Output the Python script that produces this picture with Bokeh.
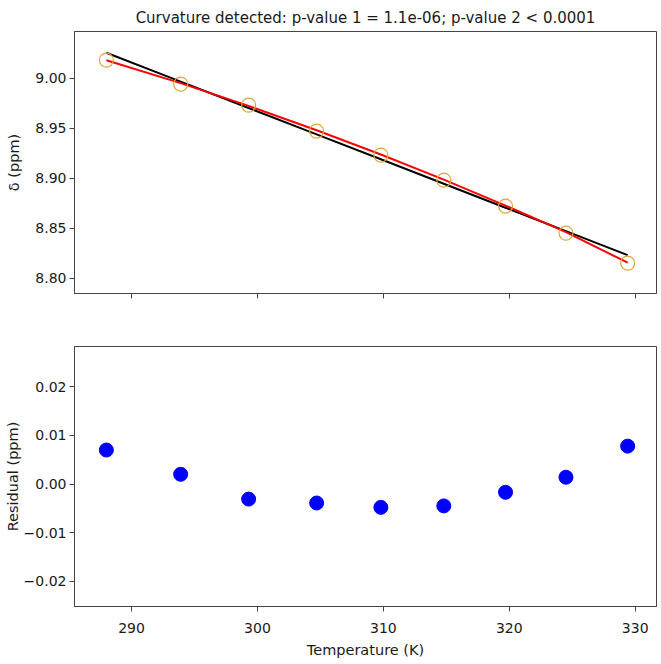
from bokeh.plotting import figure
from bokeh.layouts import column
from bokeh.models import Range1d, FixedTicker, CustomJSTickFormatter
from bokeh.embed import file_html
from bokeh.resources import INLINE

# ---- data ----
temperature = [288.0, 293.9, 299.3, 304.7, 309.8, 314.8, 319.7, 324.5, 329.4]
delta_obs = [9.018, 8.994, 8.973, 8.947, 8.923, 8.898, 8.872, 8.845, 8.815]
linear_fit = [9.0253, 8.9965, 8.9701, 8.9437, 8.9188, 8.8944, 8.8704, 8.8470, 8.8230]
quad_fit = [9.0178, 8.9950, 8.9722, 8.9479, 8.9236, 8.8985, 8.8725, 8.8460, 8.8154]
residual = [0.0070, 0.0020, -0.0031, -0.0039, -0.0048, -0.0045, -0.0017, 0.0014, 0.0078]

x_ticks = [290, 300, 310, 320, 330]
y1_ticks = [8.80, 8.85, 8.90, 8.95, 9.00]
y2_ticks = [-0.02, -0.01, 0.00, 0.01, 0.02]
title_text = "Curvature detected: p-value 1 = 1.1e-06; p-value 2 < 0.0001"

FONT = "DejaVu Sans"
TXT = "#1a1a1a"
FRAME = "#444444"
x_range = Range1d(285.47, 331.69)


def style(p):
    p.outline_line_color = FRAME
    p.outline_line_width = 1
    p.xgrid.visible = False
    p.ygrid.visible = False
    for ax in (p.xaxis[0], p.yaxis[0]):
        ax.axis_line_color = FRAME
        ax.major_tick_line_color = FRAME
        ax.major_tick_out = 5
        ax.major_tick_in = 0
        ax.minor_tick_line_color = None
        ax.major_label_text_font = FONT
        ax.major_label_text_font_size = "14px"
        ax.major_label_text_color = TXT
        ax.axis_label_text_font = FONT
        ax.axis_label_text_font_size = "14.5px"
        ax.axis_label_text_font_style = "normal"
        ax.axis_label_text_color = TXT
        ax.major_label_standoff = 3


p1 = figure(width=660, height=320, x_range=x_range, y_range=Range1d(8.7846, 9.0466),
            output_backend="svg", toolbar_location=None,
            min_border_left=74, min_border_right=4, min_border_top=31, min_border_bottom=27)
p1.title.text = title_text
p1.title.text_font = FONT
p1.title.text_font_size = "15px"
p1.title.text_font_style = "normal"
p1.title.text_color = TXT
p1.title.align = "center"
p1.title.text_line_height = 2.0
style(p1)
p1.xaxis.ticker = FixedTicker(ticks=x_ticks)
p1.xaxis.formatter = CustomJSTickFormatter(code="return '';")
p1.yaxis.ticker = FixedTicker(ticks=y1_ticks)
p1.yaxis.formatter = CustomJSTickFormatter(code="return tick.toFixed(2);")
p1.yaxis.axis_label = "δ (ppm)"
p1.yaxis.axis_label_standoff = 10

p1.line(temperature, linear_fit, line_color="black", line_width=2)
p1.line(temperature, quad_fit, line_color="#ff0000", line_width=2)
p1.scatter(temperature, delta_obs, size=14, fill_color=None, line_color="#DDA63A", line_width=1.2)

p2 = figure(width=660, height=340, x_range=x_range, y_range=Range1d(-0.0252, 0.0283),
            output_backend="svg", toolbar_location=None,
            min_border_left=74, min_border_right=4, min_border_top=26, min_border_bottom=51)
style(p2)
p2.xaxis.ticker = FixedTicker(ticks=x_ticks)
p2.xaxis.major_label_standoff = 11
p2.yaxis.ticker = FixedTicker(ticks=y2_ticks)
p2.yaxis.formatter = CustomJSTickFormatter(code="return (tick < -1e-9 ? '\u2212' : '') + Math.abs(tick).toFixed(2);")
p2.xaxis.axis_label = "Temperature (K)"
p2.yaxis.axis_label = "Residual (ppm)"
p2.yaxis.axis_label_standoff = 0
p2.xaxis.axis_label_standoff = 6
p2.scatter(temperature, residual, size=14, fill_color="#0000ff", line_color="#0000ff")

root = column(p1, p2, spacing=0)

open("out.html", "w").write(file_html(root, INLINE))
